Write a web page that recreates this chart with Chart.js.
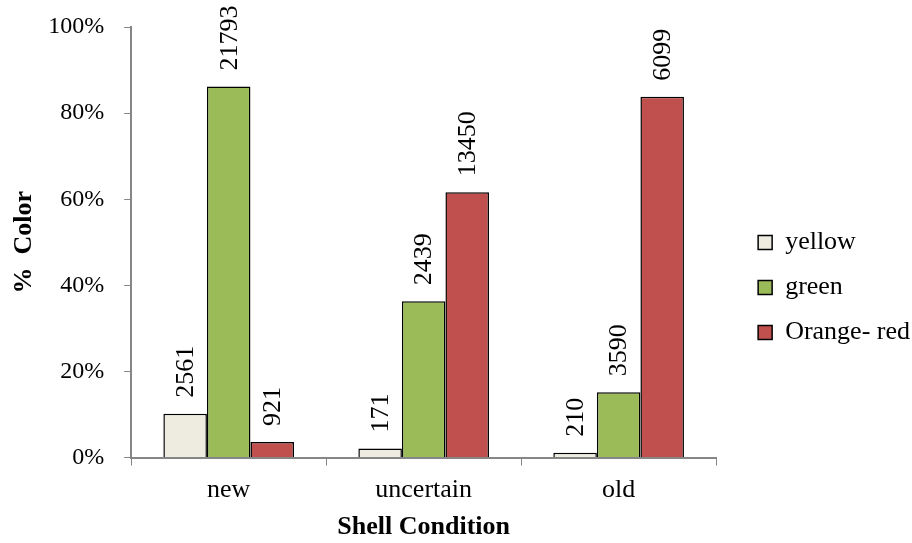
<!DOCTYPE html>
<html>
<head>
<meta charset="utf-8">
<script src="https://cdn.jsdelivr.net/npm/chart.js@4/dist/chart.umd.min.js"></script>
<style>
  html, body { margin: 0; padding: 0; background: #fff; }
  #wrap { width: 912px; height: 543px; }
</style>
</head>
<body>
<div id="wrap"><canvas id="shellChart" width="912" height="543"></canvas></div>
<script>
// categories and series (percent of each shell condition, with counts shown on bars)
const conditions = ['new', 'uncertain', 'old'];
const yellowPct = [10.2, 2.1, 1.1];
const greenPct = [86.2, 36.3, 15.2];
const redPct = [3.6, 61.6, 83.8];
const yellowCount = ['2561', '171', '210'];
const greenCount = ['21793', '2439', '3590'];
const redCount = ['921', '13450', '6099'];

const serif = "'Liberation Serif', 'Times New Roman', serif";

// rotated count labels above each bar
const countLabels = {
  id: 'countLabels',
  afterDatasetsDraw(chart) {
    const ctx = chart.ctx;
    ctx.save();
    ctx.font = '26px ' + serif;
    ctx.fillStyle = '#000';
    ctx.textAlign = 'left';
    ctx.textBaseline = 'middle';
    chart.data.datasets.forEach(function (ds, i) {
      chart.getDatasetMeta(i).data.forEach(function (bar, j) {
        ctx.save();
        ctx.translate(bar.x + 1, bar.y - 16);
        ctx.rotate(-Math.PI / 2);
        ctx.fillText(ds.counts[j], 0, 0);
        ctx.restore();
      });
    });
    ctx.restore();
  }
};

// push the legend a bit further away from the plot and lower
const legendGap = {
  id: 'legendGap',
  afterLayout(chart) {
    const lg = chart.legend;
    if (lg) {
      lg.left += 23;
      lg.right += 23;
      lg.top += 16;
      lg.bottom += 16;
    }
  }
};

const ctx = document.getElementById('shellChart');
new Chart(ctx, {
  type: 'bar',
  data: {
    labels: conditions,
    datasets: [
      { label: 'yellow', data: yellowPct, counts: yellowCount, backgroundColor: '#EEECE1', borderColor: '#000', borderWidth: 1.5 },
      { label: 'green', data: greenPct, counts: greenCount, backgroundColor: '#9BBB59', borderColor: '#000', borderWidth: 1.5 },
      { label: 'Orange- red', data: redPct, counts: redCount, backgroundColor: '#C0504D', borderColor: '#000', borderWidth: 1.5 }
    ]
  },
  options: {
    responsive: false,
    animation: false,
    layout: { padding: { left: 0, right: 15, top: 0, bottom: 0 } },
    datasets: {
      bar: { categoryPercentage: 0.67, barPercentage: 1.0 }
    },
    plugins: {
      legend: {
        position: 'right',
        labels: {
          font: { family: serif, size: 26 },
          color: '#000',
          boxWidth: 14,
          boxHeight: 14,
          padding: 19
        }
      },
      tooltip: { enabled: false }
    },
    scales: {
      x: {
        grid: { display: true, drawOnChartArea: false, offset: true, color: '#868686', tickLength: 8 },
        border: { color: '#868686', width: 2 },
        ticks: { font: { family: serif, size: 26 }, color: '#000', padding: 9 },
        title: { display: true, text: 'Shell Condition', font: { family: serif, size: 26, weight: 'bold' }, color: '#000', padding: { top: -3, bottom: 0 } }
      },
      y: {
        min: 0,
        max: 100,
        afterFit: function (scale) { scale.paddingTop = 27; },
        grid: { display: true, drawOnChartArea: false, color: '#868686', tickLength: 7 },
        border: { color: '#868686', width: 2 },
        ticks: { stepSize: 20, font: { family: serif, size: 24 }, color: '#000', padding: 20,
          callback: function (v) { return v + '%'; } },
        title: { display: true, text: '%  Color', font: { family: serif, size: 26, weight: 'bold' }, color: '#000', padding: { top: 9, bottom: -12 } }
      }
    }
  },
  plugins: [countLabels, legendGap]
});
</script>
</body>
</html>
